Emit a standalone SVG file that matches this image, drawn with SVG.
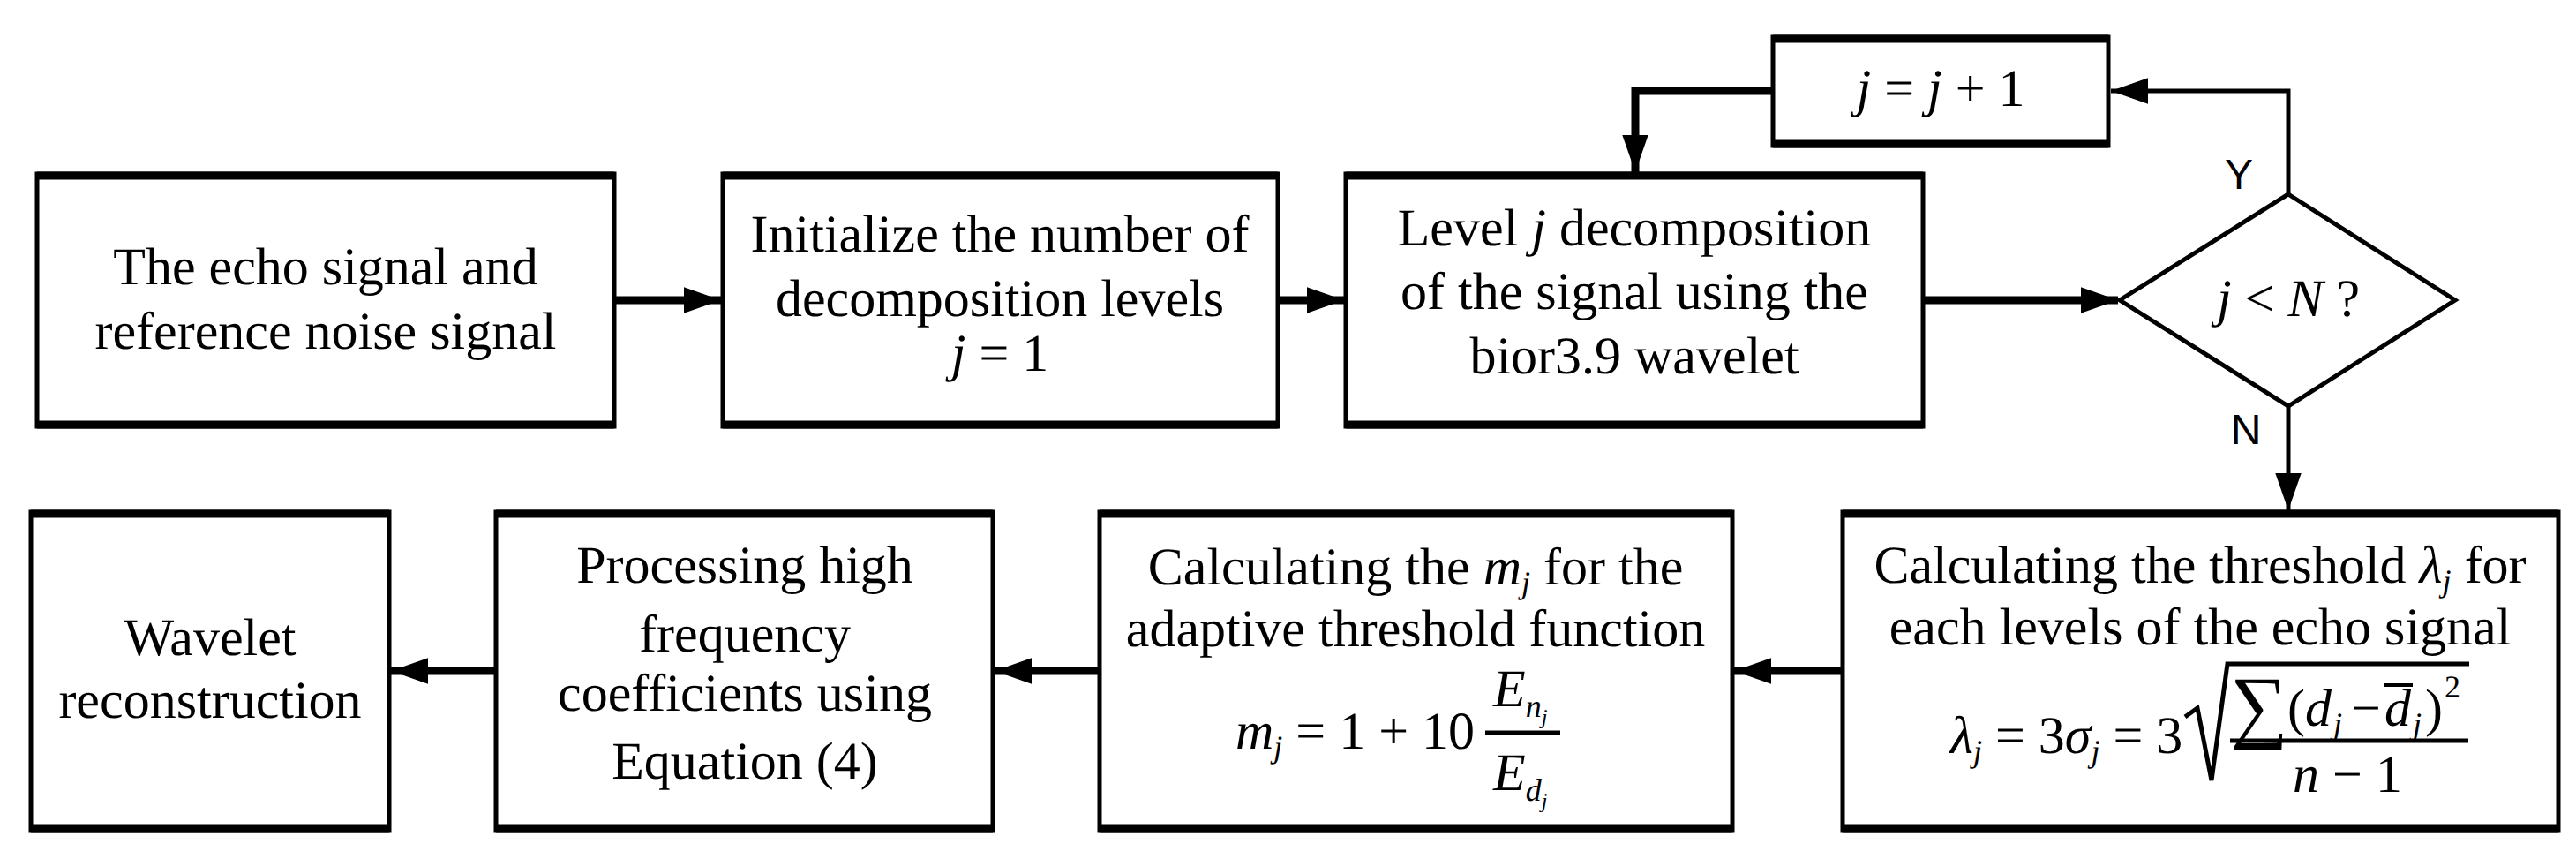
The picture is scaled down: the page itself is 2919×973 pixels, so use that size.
<svg xmlns="http://www.w3.org/2000/svg" width="2919" height="973" viewBox="0 0 2919 973" font-family="Liberation Serif, serif" text-rendering="geometricPrecision">
<style>
.b{fill:#fff;stroke:#000;stroke-width:5}
.e{stroke:#000;stroke-width:9}
text{font-family:"Liberation Serif",serif;font-size:60px;fill:#000}
.c{text-anchor:middle}
.i{font-style:italic}
.s{font-size:36px;font-style:italic}
.l{font-family:"Liberation Sans",sans-serif;font-size:48px}
.k{stroke:#000;stroke-width:9;fill:none}
.t{stroke:#000;stroke-width:5;fill:none}
</style>
<defs>
<marker id="A" viewBox="0 0 10 10" refX="10" refY="5" markerWidth="42" markerHeight="42" markerUnits="userSpaceOnUse" orient="auto"><path d="M0,1.5L10,5L0,8.5z"/></marker>
</defs>
<g id="n1"><rect class="b" x="42" y="197" width="654" height="286"/><line class="e" x1="42" y1="199" x2="696" y2="199"/><line class="e" x1="42" y1="481" x2="696" y2="481"/>
<text class="c" x="369" y="322">The echo signal and</text><text class="c" x="369" y="395">reference noise signal</text></g>
<g id="n2"><rect class="b" x="819" y="197" width="629" height="286"/><line class="e" x1="819" y1="199" x2="1448" y2="199"/><line class="e" x1="819" y1="481" x2="1448" y2="481"/>
<text class="c" x="1133" y="285">Initialize the number of</text><text class="c" x="1133" y="358">decomposition levels</text><text class="c" x="1133" y="420"><tspan class="i">j</tspan> = 1</text></g>
<g id="n3"><rect class="b" x="1525" y="197" width="654" height="286"/><line class="e" x1="1525" y1="199" x2="2179" y2="199"/><line class="e" x1="1525" y1="481" x2="2179" y2="481"/>
<text class="c" x="1852" y="278">Level <tspan class="i">j</tspan>  decomposition</text><text class="c" x="1852" y="350">of the signal using the</text><text class="c" x="1852" y="423">bior3.9 wavelet</text></g>
<g id="n4"><rect class="b" x="2009" y="42" width="380" height="123"/><line class="e" x1="2009" y1="44" x2="2389" y2="44"/><line class="e" x1="2009" y1="163" x2="2389" y2="163"/>
<text class="c" x="2199" y="120"><tspan class="i">j</tspan> = <tspan class="i">j</tspan> + 1</text></g>
<g id="n5"><path class="b" d="M2593,220L2782,340L2593,460L2402,340Z"/>
<text class="c" x="2593" y="358"><tspan class="i">j</tspan> &lt; <tspan class="i">N</tspan> ?</text></g>
<g id="n6"><rect class="b" x="2088" y="580" width="811" height="360"/><line class="e" x1="2088" y1="582" x2="2899" y2="582"/><line class="e" x1="2088" y1="938" x2="2899" y2="938"/>
<text class="c" x="2493" y="660">Calculating the threshold <tspan class="i">λ</tspan><tspan class="s" dy="10">j</tspan><tspan dy="-10"> for</tspan></text>
<text class="c" x="2493" y="730">each levels of the echo signal</text>
<text x="2210" y="853" class="i">λ<tspan class="s" dy="10">j</tspan><tspan dy="-10" font-style="normal"> = 3</tspan>σ<tspan class="s" dy="10">j</tspan><tspan dy="-10" font-style="normal"> = 3</tspan></text>
<path class="t" d="M2476,812L2490,802L2506,884L2524,752L2798,752"/>
<line class="t" x1="2527" y1="839" x2="2797" y2="839"/>
<text x="2527" y="830" style="font-size:92px">∑</text>
<text x="2592" y="822">(</text>
<text x="2612" y="822" class="i">d</text><text x="2644" y="832" class="s">j</text>
<text x="2664" y="822">−</text>
<text x="2702" y="822" class="i">d</text><text x="2734" y="832" class="s">j</text>
<line stroke="#000" stroke-width="4" x1="2702" y1="776" x2="2734" y2="776"/>
<text x="2748" y="822">)</text><text x="2770" y="790" style="font-size:36px">2</text>
<text class="c i" x="2660" y="897">n <tspan font-style="normal">− 1</tspan></text></g>
<g id="n7"><rect class="b" x="1246" y="580" width="717" height="360"/><line class="e" x1="1246" y1="582" x2="1963" y2="582"/><line class="e" x1="1246" y1="938" x2="1963" y2="938"/>
<text class="c" x="1604" y="662">Calculating the <tspan class="i">m</tspan><tspan class="s" dy="10">j</tspan><tspan dy="-10"> for the</tspan></text>
<text class="c" x="1604" y="732">adaptive threshold function</text>
<text x="1400" y="848" class="i">m<tspan class="s" dy="10">j</tspan><tspan dy="-10" font-style="normal"> = 1 + 10</tspan></text>
<line class="t" x1="1683" y1="830" x2="1768" y2="830"/>
<text x="1692" y="800" class="i">E<tspan class="s" dy="12">n</tspan><tspan class="s" style="font-size:24px" dy="8">j</tspan></text>
<text x="1692" y="895" class="i">E<tspan class="s" dy="12">d</tspan><tspan class="s" style="font-size:24px" dy="8">j</tspan></text></g>
<g id="n8"><rect class="b" x="562" y="580" width="563" height="360"/><line class="e" x1="562" y1="582" x2="1125" y2="582"/><line class="e" x1="562" y1="938" x2="1125" y2="938"/>
<text class="c" x="844" y="660">Processing high</text><text class="c" x="844" y="738">frequency</text><text class="c" x="844" y="805">coefficients using</text><text class="c" x="844" y="882">Equation (4)</text></g>
<g id="n9"><rect class="b" x="35" y="580" width="406" height="360"/><line class="e" x1="35" y1="582" x2="441" y2="582"/><line class="e" x1="35" y1="938" x2="441" y2="938"/>
<text class="c" x="238" y="742">Wavelet</text><text class="c" x="238" y="813">reconstruction</text></g>
<g id="connectors">
<line class="k" x1="698" y1="340" x2="817" y2="340" marker-end="url(#A)"/>
<line class="k" x1="1450" y1="340" x2="1523" y2="340" marker-end="url(#A)"/>
<line class="k" x1="2181" y1="340" x2="2400" y2="340" marker-end="url(#A)"/>
<polyline class="t" points="2593,220 2593,103 2392,103" marker-end="url(#A)"/>
<polyline class="k" points="2007,103 1853,103 1853,195" marker-end="url(#A)"/>
<line class="t" x1="2593" y1="460" x2="2593" y2="578" marker-end="url(#A)"/>
<line class="k" x1="2086" y1="760" x2="1965" y2="760" marker-end="url(#A)"/>
<line class="k" x1="1244" y1="760" x2="1127" y2="760" marker-end="url(#A)"/>
<line class="k" x1="560" y1="760" x2="443" y2="760" marker-end="url(#A)"/>
<text class="l c" x="2537" y="214">Y</text>
<text class="l c" x="2545" y="503">N</text>
</g>
</svg>
